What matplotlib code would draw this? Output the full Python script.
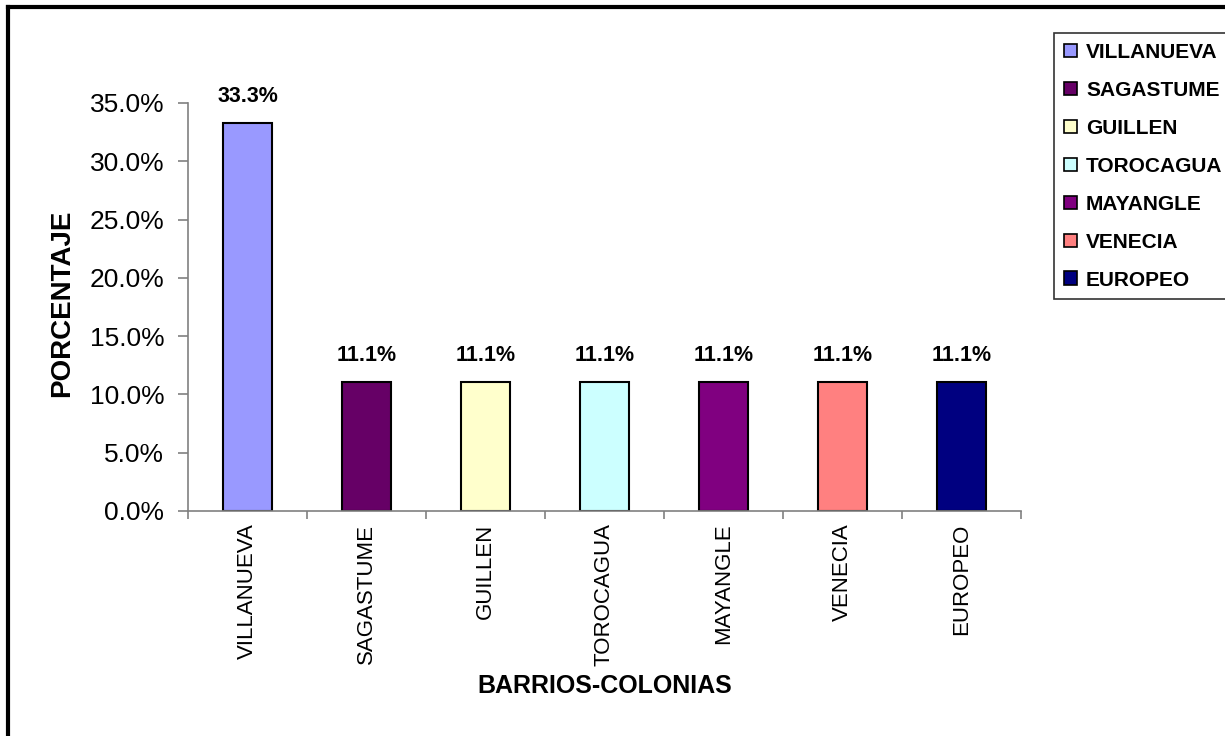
import matplotlib
matplotlib.use("Agg")
import matplotlib.pyplot as plt
from matplotlib.lines import Line2D
from matplotlib.ticker import FixedLocator, PercentFormatter

categories = ["VILLANUEVA", "SAGASTUME", "GUILLEN", "TOROCAGUA", "MAYANGLE", "VENECIA", "EUROPEO"]
values = [33.3, 11.1, 11.1, 11.1, 11.1, 11.1, 11.1]
colors = ["#9999FF", "#660066", "#FFFFCC", "#CCFFFF", "#800080", "#FF8080", "#000080"]
yticks = [0, 5, 10, 15, 20, 25, 30, 35]

plt.rcParams['font.family'] = ['Liberation Sans', 'DejaVu Sans']

W, H = 1225, 736
fig = plt.figure(figsize=(W / 100, H / 100), dpi=100)
ax = fig.add_axes([188 / W, 1 - 511 / H, (1021 - 188) / W, (511 - 103) / H])

x = list(range(len(categories)))
bars = ax.bar(x, values, width=0.42, color=colors, edgecolor="black", linewidth=1.5)

for xi, v in zip(x, values):
    ax.annotate(f"{v:.1f}%", (xi, v), xytext=(0, 11.5), textcoords="offset points",
                ha="center", va="bottom", fontsize=15.5, fontweight="bold")

ax.set_xlim(-0.5, len(categories) - 0.5)
ax.set_ylim(0, 35)
ax.set_yticks(yticks)
ax.yaxis.set_major_formatter(PercentFormatter(decimals=1))
ax.tick_params(axis="y", labelsize=19, length=7, width=1.2, color="#808080", pad=10)

ax.set_xticks(x)
ax.set_xticklabels(categories, rotation=90, fontsize=16)
ax.tick_params(axis="x", which="major", length=0, pad=9)
ax.xaxis.set_minor_locator(FixedLocator([i - 0.5 for i in range(len(categories) + 1)]))
ax.tick_params(axis="x", which="minor", length=6, width=1.2, color="#808080")

for s in ["top", "right"]:
    ax.spines[s].set_visible(False)
for s in ["left", "bottom"]:
    ax.spines[s].set_color("#808080")
    ax.spines[s].set_linewidth(1.2)

fig.text(62 / W, 1 - 303 / H, "PORCENTAJE", rotation=90, ha="center", va="center",
         fontsize=20, fontweight="bold")
fig.text(605 / W, 1 - 686 / H, "BARRIOS-COLONIAS", ha="center", va="center",
         fontsize=18, fontweight="bold")

leg = fig.legend(handles=list(bars), labels=categories, loc="upper left",
                 bbox_to_anchor=(1054 / W, 1 - 33 / H), frameon=True, fancybox=False,
                 edgecolor="black", prop={"size": 15, "weight": "bold"},
                 labelspacing=0.91, handlelength=0.62, handleheight=0.62,
                 handletextpad=0.45, borderpad=0.47, borderaxespad=0)
leg.get_frame().set_linewidth(1.2)
for h in leg.legend_handles:
    h.set_linewidth(1.2)

fig.add_artist(Line2D([8 / W, 8 / W], [0, 1 - 7 / H], color="black", linewidth=3,
                      transform=fig.transFigure))
fig.add_artist(Line2D([8 / W, 1], [1 - 7 / H, 1 - 7 / H], color="black", linewidth=3,
                      transform=fig.transFigure))

fig.savefig("out.png", dpi=100)
